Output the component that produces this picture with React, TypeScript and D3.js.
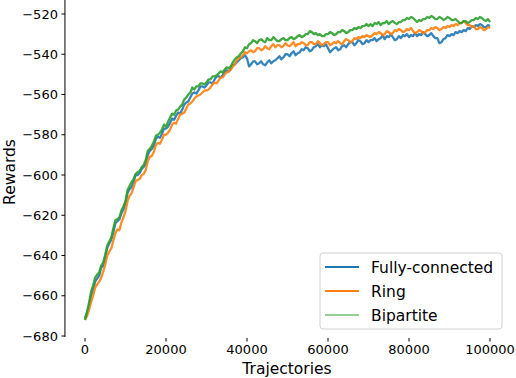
import React from "react";
import * as d3 from "d3";

const steps: number[] = d3.range(0, 100001, 500);

const fullyConnected: number[] = [
  -671, -668.5, -665, -660, -657, -653, -651.5, -650, -646, -645,
  -641, -636, -634, -632, -628.5, -624, -623, -622, -619, -617,
  -614, -609, -607, -606, -603.5, -600, -600, -599, -597, -596,
  -594.5, -590, -588, -587, -585.5, -582, -581, -581.5, -579.5, -577,
  -577, -576, -574, -572, -572.5, -570.5, -569, -569.5, -567.5, -565,
  -564, -563.5, -561.5, -559.5, -559, -559.5, -558, -556, -556, -556.5,
  -555.5, -554, -554, -554.5, -552.5, -551, -551, -551.5, -550.5, -548.5,
  -548, -548.5, -547.5, -545.5, -545, -544, -543, -542, -541.5, -540.5,
  -542, -546, -545, -543.5, -543.5, -545, -544.5, -543.5, -545, -545.5,
  -544, -543, -544.5, -543.5, -543, -542, -541, -542.5, -541.5, -540,
  -540, -541, -539.5, -538.5, -540.5, -539.5, -539, -537.5, -538, -536.5,
  -537, -538.5, -538, -536.5, -536, -535, -536.5, -535.5, -536, -535,
  -537, -539, -538, -537, -536.5, -538, -537.5, -536, -535.5, -536.5,
  -535, -534, -534, -535.5, -534.5, -533, -533.5, -535, -534.5, -533,
  -534, -533, -533, -532, -533.5, -532.5, -532, -530.5, -532.5, -531,
  -531.5, -530, -531.5, -533, -532.5, -531, -532, -530.5, -531, -530,
  -531.5, -530.5, -531, -529.5, -531, -530, -530.5, -529, -530, -531,
  -530.5, -529.5, -531, -532, -532, -534.5, -534, -532.5, -532, -530.5,
  -531, -530, -530.5, -529, -529.5, -528.5, -529, -528, -528.5, -527,
  -527.5, -526, -526.5, -525.5, -526, -525, -525.5, -526.5, -526.5, -525.5,
  -526,
];

const ring: number[] = [
  -672, -670, -667, -663, -660, -656, -654.5, -653, -651, -648,
  -644.5, -640, -638, -636.5, -632.5, -629, -627, -627.5, -623.5, -621,
  -618, -613, -610.5, -609, -606, -603, -602.5, -602, -600, -599.5,
  -597.5, -593, -591, -590.5, -588.5, -585, -584, -584.5, -582.5, -580,
  -580, -579, -577.5, -575, -574, -574.5, -572, -570, -569.5, -569,
  -567, -565, -564.5, -563.5, -562, -561, -560.5, -560, -559, -558,
  -558, -557.5, -556.5, -555, -554, -554.5, -553, -551.5, -551.5, -550,
  -549, -548.5, -547.5, -546, -545, -543, -542, -541.5, -540.5, -539,
  -539.5, -538.5, -538, -539, -538.5, -537, -537, -538, -537.5, -536,
  -537, -537.5, -536, -535, -536.5, -535.5, -535.5, -536.5, -536, -534.5,
  -535.5, -536, -535, -534, -536, -535, -535, -534, -534.5, -535.5,
  -535.5, -534, -534, -535, -535, -533.5, -534.5, -535.5, -535, -534,
  -534, -535.5, -535, -534, -534.5, -533.5, -534.5, -535, -533.5, -532.5,
  -533, -534, -533.5, -532, -532.5, -531.5, -532, -531, -531.5, -530.5,
  -531, -531.5, -530.5, -529.5, -530, -529, -529.5, -530.5, -530, -528.5,
  -529, -530, -529.5, -528, -528.5, -527.5, -528, -529, -528.5, -527.5,
  -528, -527, -528.5, -529.5, -529, -528, -528.5, -529.5, -529, -528,
  -528, -527, -527.5, -526.5, -527, -528, -527.5, -526.5, -527, -526,
  -526.5, -525.5, -526, -525, -525.5, -524.5, -524.5, -523.5, -524.5, -525.5,
  -525.5, -526.5, -526, -527.5, -527.5, -526.5, -527, -528, -527.5, -526.5,
  -527,
];

const bipartite: number[] = [
  -672, -668, -663.5, -658, -655, -651, -649.5, -648.5, -645, -643.5,
  -639.5, -635, -633, -631, -626.5, -622.5, -622, -621, -617.5, -615.5,
  -613, -607.5, -605.5, -603.5, -602, -599.5, -598.5, -598, -596, -595,
  -592.5, -588, -587, -585.5, -583.5, -580.5, -580, -579, -577.5, -575,
  -576, -573.5, -571.5, -569.5, -570, -568, -567.5, -566, -565, -562.5,
  -561.5, -560, -559, -556.5, -557.5, -556, -556, -554.5, -554.5, -555,
  -554, -552.5, -552.5, -551, -551, -550.5, -549.5, -548.5, -549, -547.5,
  -546.5, -547, -546, -544, -542.5, -541.5, -541, -539.5, -538.5, -536.5,
  -537, -535, -534.5, -533, -533.5, -534.5, -533, -532.5, -533.5, -534,
  -532, -533, -533, -531.5, -532.5, -533.5, -533.5, -532.5, -532, -533,
  -533, -532, -531.5, -532.5, -532, -531, -530.5, -531.5, -531, -530,
  -530, -528.5, -529, -530, -529.5, -530.5, -530, -531, -531, -530,
  -530, -529, -529.5, -530.5, -530, -529, -529, -528, -528.5, -529.5,
  -529, -528, -528, -527, -527.5, -526.5, -527, -526, -526, -525,
  -526, -525, -526, -524.5, -525, -524, -525.5, -524.5, -524.5, -523.5,
  -525, -524, -523.5, -524.5, -525, -524, -524, -523, -523, -522,
  -522.5, -521.5, -522, -523, -524, -523, -523.5, -522.5, -522.5, -521.5,
  -522, -521, -521.5, -522.5, -522.5, -521.5, -522, -523, -522.5, -521.5,
  -522, -523, -523, -522.5, -523.5, -524.5, -524.5, -523.5, -523.5, -524.5,
  -524, -523, -523, -522, -522.5, -521.5, -522, -523, -523.5, -522.5,
  -524,
];

const seriesNames: string[] = ["Fully-connected", "Ring", "Bipartite"];
const seriesColors: string[] = ["#1f77b4", "#ff7f0e", "#2ca02c"];
const xTicks: number[] = [0, 20000, 40000, 60000, 80000, 100000];
const yTicks: number[] = [-680, -660, -640, -620, -600, -580, -560, -540, -520];

const W = 516;
const H = 378;
const FONT = "DejaVu Sans, sans-serif";

export default function App() {
  const x = d3.scaleLinear().domain([0, 100000]).range([85, 490]);
  const y = d3.scaleLinear().domain([-680, -520]).range([336, 14]);
  const spineX = x(-4950);
  const bottomY = y(-680.5);

  const allSeries = [fullyConnected, ring, bipartite];
  const line = d3
    .line<number>()
    .x((_, i) => x(steps[i]))
    .y((d) => y(d));

  const fmt = (v: number) => (v < 0 ? "\u2212" + Math.abs(v) : String(v));

  const legX = 320;
  const legY = 253;
  const legW = 182;
  const legH = 76;

  return (
    <svg
      width={W}
      height={H}
      style={{ position: "absolute", left: 0, top: 0, background: "#fff" }}
      fontFamily={FONT}
    >
      <rect x={0} y={0} width={W} height={H} fill="#fff" />
      {allSeries.map((s, i) => (
        <path
          key={i}
          d={line(s) || ""}
          fill="none"
          stroke={seriesColors[i]}
          strokeWidth={2.3}
          strokeOpacity={0.9}
          strokeLinejoin="round"
        />
      ))}
      <line x1={spineX} x2={spineX} y1={0} y2={bottomY} stroke="#000" strokeWidth={1} />
      {yTicks.map((t) => (
        <g key={t}>
          <line x1={spineX - 3.5} x2={spineX} y1={y(t)} y2={y(t)} stroke="#000" strokeWidth={1} />
          <text
            x={spineX - 7}
            y={y(t)}
            dy="0.36em"
            textAnchor="end"
            fontSize={13}
            fill="#000"
          >
            {fmt(t)}
          </text>
        </g>
      ))}
      {xTicks.map((t) => (
        <g key={t}>
          <line x1={x(t)} x2={x(t)} y1={bottomY + 1} y2={bottomY + 4.5} stroke="#000" strokeWidth={1} />
          <text x={x(t)} y={354} textAnchor="middle" fontSize={13} fill="#000">
            {fmt(t)}
          </text>
        </g>
      ))}
      <text x={287} y={374} textAnchor="middle" fontSize={15.5} fill="#000">
        Trajectories
      </text>
      <text
        transform={`translate(15,172) rotate(-90)`}
        textAnchor="middle"
        fontSize={15.5}
        fill="#000"
      >
        Rewards
      </text>
      <rect
        x={legX}
        y={legY}
        width={legW}
        height={legH}
        rx={3}
        fill="#fff"
        fillOpacity={0.8}
        stroke="#d0d0d0"
        strokeWidth={1}
      />
      {seriesNames.map((n, i) => {
        const cy = 267 + i * 24;
        return (
          <g key={n}>
            <line
              x1={325}
              x2={359}
              y1={cy}
              y2={cy}
              stroke={seriesColors[i]}
              strokeWidth={i === 2 ? 1 : 2}
            />
            <text x={371} y={cy} dy="0.36em" fontSize={15.5} fill="#000">
              {n}
            </text>
          </g>
        );
      })}
    </svg>
  );
}
